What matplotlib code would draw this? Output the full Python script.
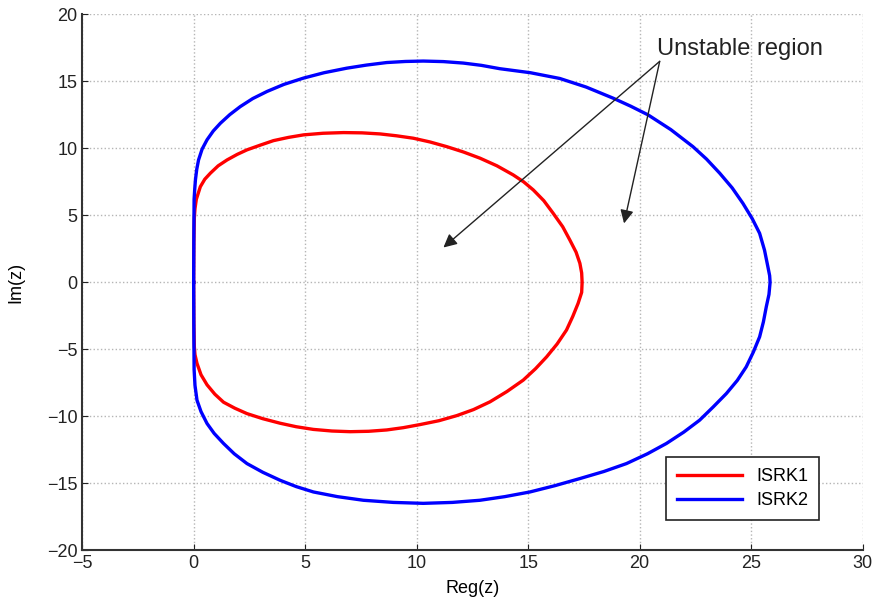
import matplotlib
matplotlib.use("Agg")
import matplotlib.pyplot as plt

# stability region boundaries (Reg(z), Im(z))
isrk1_re = [0.0, 0.01, 0.03, 0.06, 0.12, 0.30, 0.50, 0.75, 1.10, 1.50, 1.95, 2.39,
            3.00, 3.58, 4.25, 4.93, 5.80, 6.72, 7.55, 8.36, 9.10, 9.85, 10.60,
            11.35, 12.10, 12.84, 13.60, 14.33, 14.80, 15.23, 15.70, 16.12, 16.55,
            16.87, 17.15, 17.32, 17.40, 17.42,
            17.40, 17.24, 17.00, 16.72, 16.30, 15.83, 15.33, 14.78, 14.05, 13.29,
            12.55, 11.80, 11.00, 10.15, 9.40, 8.66, 7.85, 7.02, 6.20, 5.37, 4.60,
            3.88, 3.10, 2.39, 1.85, 1.34, 0.95, 0.60, 0.33, 0.15, 0.06, 0.03,
            0.01, 0.0]
isrk1_im = [0.0, 3.0, 4.8, 5.5, 6.2, 7.14, 7.70, 8.15, 8.70, 9.14, 9.55, 9.89,
            10.25, 10.58, 10.82, 11.01, 11.13, 11.18, 11.16, 11.08, 10.94, 10.76, 10.48,
            10.13, 9.73, 9.27, 8.70, 8.02, 7.50, 6.90, 6.10, 5.16, 4.15,
            3.16, 2.25, 1.42, 0.70, 0.0,
            -0.75, -1.57, -2.55, -3.56, -4.60, -5.56, -6.45, -7.30, -8.15, -8.92,
            -9.50, -9.95, -10.33, -10.62, -10.85, -11.02, -11.12, -11.15, -11.10, -10.98, -10.78,
            -10.52, -10.18, -9.80, -9.40, -8.95, -8.35, -7.65, -6.90, -6.05, -5.4, -4.8,
            -3.0, 0.0]

isrk2_re = [0.0, 0.01, 0.02, 0.05, 0.08, 0.14, 0.22, 0.38, 0.60, 0.88, 1.20, 1.62,
            2.09, 2.65, 3.29, 4.05, 4.93, 5.85, 6.87, 7.75, 8.66, 9.50, 10.30,
            11.20, 12.09, 12.90, 13.73, 15.10, 16.42, 17.60, 18.81, 19.60, 20.38,
            21.40, 22.39, 23.00, 23.59, 24.15, 24.63, 25.05, 25.38, 25.60, 25.75,
            25.83, 25.85,
            25.80, 25.68, 25.55, 25.38, 25.10, 24.78, 24.38, 23.89, 23.30, 22.69,
            21.98, 21.20, 20.35, 19.41, 18.40, 17.32, 16.20, 15.08, 13.95, 12.84,
            11.60, 10.30, 8.95, 7.61, 6.45, 5.37, 4.60, 3.88, 3.10, 2.39, 1.82,
            1.34, 0.92, 0.60, 0.33, 0.15, 0.06, 0.02, 0.01, 0.0]
isrk2_im = [0.0, 4.0, 6.2, 7.0, 7.65, 8.45, 9.14, 9.95, 10.64, 11.30, 11.88, 12.52,
            13.12, 13.72, 14.25, 14.78, 15.25, 15.65, 15.99, 16.22, 16.41, 16.49, 16.52,
            16.48, 16.37, 16.20, 15.95, 15.65, 15.22, 14.58, 13.75, 13.15, 12.50,
            11.40, 10.13, 9.20, 8.15, 7.05, 5.90, 4.75, 3.66, 2.40, 1.17,
            0.5, 0.0,
            -0.9, -1.82, -2.95, -4.07, -5.20, -6.31, -7.32, -8.30, -9.30, -10.29,
            -11.18, -12.03, -12.80, -13.53, -14.12, -14.65, -15.18, -15.65, -16.00, -16.27,
            -16.43, -16.50, -16.43, -16.27, -16.00, -15.65, -15.25, -14.78, -14.18, -13.53, -12.80,
            -12.03, -11.28, -10.54, -9.65, -8.80, -7.7, -6.5, -4.0, 0.0]

labels = ["ISRK1", "ISRK2"]
note = "Unstable region"
note_xy = (20.8, 17.45)
arrow_tips = [(11.2, 2.6), (19.3, 4.4)]
arrow_root = (20.9, 16.5)

plt.rcParams["font.family"] = ["Liberation Sans", "DejaVu Sans"]

fig = plt.figure(figsize=(8.74, 6.02), dpi=100)
ax = fig.add_axes([0.094, 0.086, 0.893, 0.89])

ax.plot(isrk1_re, isrk1_im, color="#ff0000", lw=2.4, label=labels[0],
        solid_joinstyle="round")
ax.plot(isrk2_re, isrk2_im, color="#0000ff", lw=2.4, label=labels[1],
        solid_joinstyle="round")

ax.set_xlim(-5, 30)
ax.set_ylim(-20, 20)
ax.set_xticks(range(-5, 31, 5))
ax.set_yticks(range(-20, 21, 5))
ax.grid(True, linestyle=":", color="#b5b5b5", lw=1)
ax.tick_params(direction="in", length=4, labelsize=13, colors="#222222")
for s in ["top", "right"]:
    ax.spines[s].set_visible(False)
for s in ["left", "bottom"]:
    ax.spines[s].set_color("#333333")
    ax.spines[s].set_linewidth(1.5)

ax.set_xlabel("Reg(z)", fontsize=13, labelpad=6)
ax.set_ylabel("Im(z)", fontsize=13, labelpad=16)

ax.text(note_xy[0], note_xy[1], note, fontsize=17, color="#222222",
        ha="left", va="center")
for tip in arrow_tips:
    ax.annotate("", xy=tip, xytext=arrow_root,
                arrowprops=dict(arrowstyle="-|>", color="#222222", lw=1.0,
                                mutation_scale=20, shrinkA=0, shrinkB=0))

leg = ax.legend(loc="lower right", bbox_to_anchor=(0.956, 0.039), fontsize=13,
                fancybox=False, framealpha=1, edgecolor="#222222",
                handlelength=3.6, borderpad=0.6, labelspacing=0.4)
leg.get_frame().set_linewidth(1.2)

fig.savefig("out.png", dpi=100)
